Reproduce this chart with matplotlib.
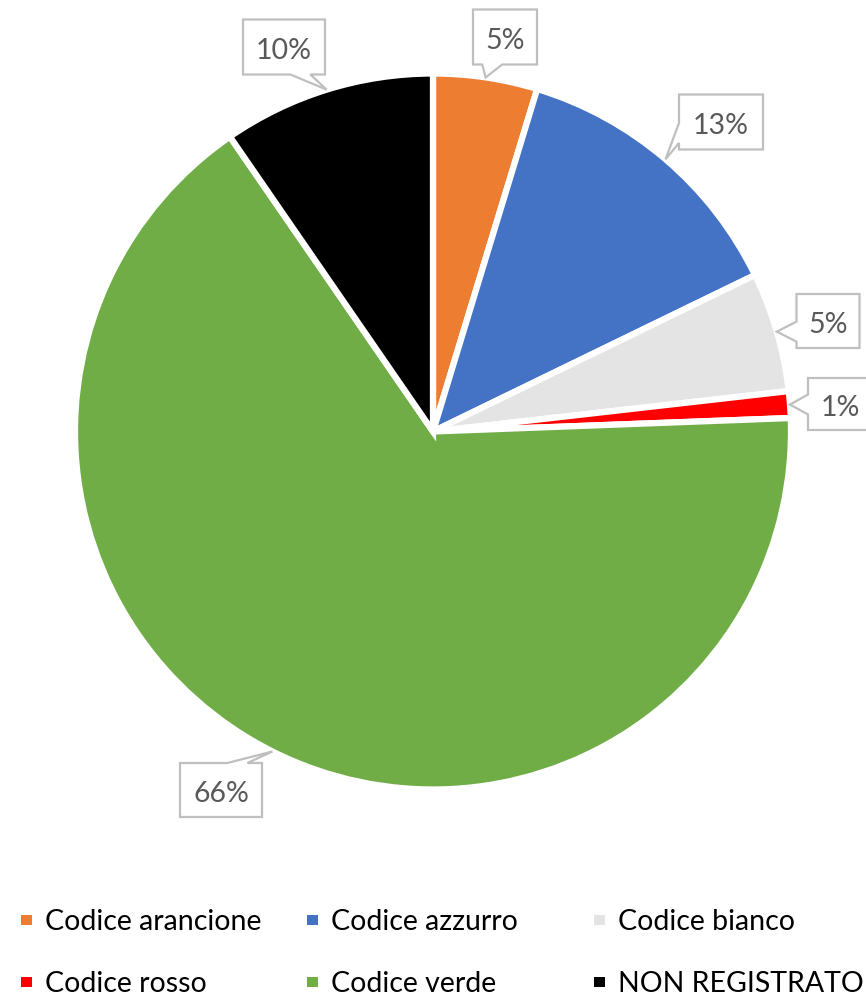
import matplotlib
matplotlib.use("Agg")
import matplotlib.pyplot as plt
import matplotlib.transforms as mtransforms
from matplotlib.patches import Polygon, Rectangle
import numpy as np

# data (percent of total)
categories = ["Codice arancione", "Codice azzurro", "Codice bianco",
              "Codice rosso", "Codice verde", "NON REGISTRATO"]
shares = [4.7, 13.1, 5.4, 1.2, 66.0, 9.6]
colors = ["#ED7D31", "#4472C4", "#E4E4E4", "#FF0000", "#70AD47", "#000000"]

# callout boxes: centre x, centre y (pixels from top-left), width, height
label_boxes = [(505, 37, 64, 55), (721, 122, 84, 55), (828, 321, 63, 54),
               (840, 404, 64, 52), (221, 790, 82, 54), (284, 47, 82, 55)]

plt.rcParams['font.family'] = ['Lato', 'DejaVu Sans']

W, H = 866, 1001
fig = plt.figure(figsize=(W / 100, H / 100), dpi=100)

cx, cy, R = 433, 431.5, 358
ax = fig.add_axes([(cx - R) / W, (H - cy - R) / H, 2 * R / W, 2 * R / H])
wedges, _ = ax.pie(shares, colors=colors, startangle=90, counterclock=False,
                   radius=1, wedgeprops=dict(edgecolor="white", linewidth=4.5))
ax.set_xlim(-1, 1)
ax.set_ylim(-1, 1)
ax.set_aspect("equal", adjustable="box")
ax.axis("off")

# pixel coords with origin at top-left
pix = mtransforms.Affine2D().scale(1 / W, -1 / H).translate(0, 1) + fig.transFigure


def callout_points(bx, by, w, h, tx, ty, half=10):
    l, r, t, b = bx - w / 2, bx + w / 2, by - h / 2, by + h / 2
    out_x = max(l - tx, tx - r, 0)
    out_y = max(t - ty, ty - b, 0)
    if out_y >= out_x:
        side = "bottom" if ty > b else "top"
        c = np.clip(tx, l + 0.3 * w, r - 0.3 * w)
    else:
        side = "right" if tx > r else "left"
        c = np.clip(ty, t + 0.3 * h, b - 0.3 * h)
    pts = [(l, t)]
    if side == "top":
        pts += [(c - half, t), (tx, ty), (c + half, t)]
    pts += [(r, t)]
    if side == "right":
        pts += [(r, c - half), (tx, ty), (r, c + half)]
    pts += [(r, b)]
    if side == "bottom":
        pts += [(c + half, b), (tx, ty), (c - half, b)]
    pts += [(l, b)]
    if side == "left":
        pts += [(l, c + half), (tx, ty), (l, c - half)]
    return pts


for wedge, share, (bx, by, bw, bh) in zip(wedges, shares, label_boxes):
    mid = np.deg2rad((wedge.theta1 + wedge.theta2) / 2)
    dx, dy = ax.transData.transform((np.cos(mid), np.sin(mid)))
    tx, ty = dx, H - dy
    poly = Polygon(callout_points(bx, by, bw, bh, tx, ty), closed=True,
                   facecolor="white", edgecolor="#BFBFBF", linewidth=1.6,
                   transform=pix, clip_on=False)
    fig.patches.append(poly)
    fig.text(bx, by + 12, f"{round(share):d}%", transform=pix, ha="center",
             va="baseline", fontsize=20.5, color="#595959")

# legend, 3 columns x 2 rows
col_x = [21, 307, 594]
row_y = [920, 982]
for i, (name, col) in enumerate(zip(categories, colors)):
    x = col_x[i % 3]
    y = row_y[i // 3]
    fig.patches.append(Rectangle((x, y - 5), 11, 10, facecolor=col,
                                 edgecolor="none", transform=pix))
    fig.text(x + 24, y + 10, name, transform=pix, ha="left", va="baseline",
             fontsize=20.5, color="black")

fig.savefig("out.png", dpi=100)
